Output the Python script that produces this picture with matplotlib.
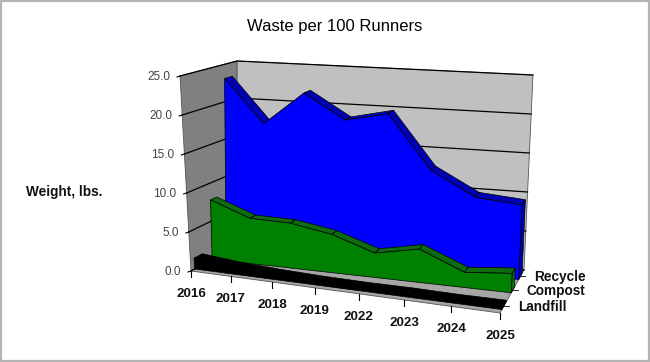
import numpy as np
import matplotlib
matplotlib.use('Agg')
import matplotlib.pyplot as plt
from matplotlib.patches import Polygon, Rectangle

plt.rcParams['font.family'] = ['Liberation Sans', 'DejaVu Sans']

# Values
years = ['2016', '2017', '2018', '2019', '2022', '2023', '2024', '2025']
series_names = ['Recycle', 'Compost', 'Landfill']
recycle = [23.1, 17.4, 21.8, 18.6, 19.8, 12.9, 9.9, 9.4]
compost = [7.8, 5.9, 5.8, 4.9, 3.1, 4.2, 1.9, 2.4]
landfill = [1.4, 0.9, 0.6, 0.4, 0.3, 0.3, 0.2, 0.2]
y_ticks = [0, 5, 10, 15, 20, 25]

# Corners of the 3D box in pixels: (across, depth, height)
corners = {
    (0, 0, 0): (191, 271), (1, 0, 0): (500, 313),
    (0, 1, 0): (236, 246), (1, 1, 0): (524, 270),
    (0, 0, 1): (180, 76), (1, 0, 1): (508, 105),
    (0, 1, 1): (237, 61), (1, 1, 1): (533, 75),
}
PERSP = 1.123


def project(i, d, v):
    # category index, depth 0-1, value -> pixel position
    a = i / (len(years) - 1)
    u = a / (a + (1 - a) * PERSP)
    h = v / 25.0
    x, y = 0.0, 0.0
    for (cu, cd, ch), (px, py) in corners.items():
        w = (u if cu else 1 - u) * (d if cd else 1 - d) * (h if ch else 1 - h)
        x += w * px
        y += w * py
    return x, y


fig = plt.figure(figsize=(6.5, 3.62), dpi=100)
ax = fig.add_axes([0, 0, 1, 1])
ax.set_xlim(0, 650)
ax.set_ylim(362, 0)
ax.axis('off')
n = len(years) - 1

# Walls and floor
ax.add_patch(Polygon([project(0, 1, 0), project(n, 1, 0), project(n, 1, 25), project(0, 1, 25)],
                     fc='#C0C0C0', ec='#555555', lw=0.6, zorder=1))
ax.add_patch(Polygon([project(0, 0, 0), project(0, 1, 0), project(0, 1, 25), project(0, 0, 25)],
                     fc='#808080', ec='#555555', lw=0.6, zorder=1))
ax.add_patch(Polygon([project(0, 0, 0), project(n, 0, 0), project(n, 1, 0), project(0, 1, 0)],
                     fc='#A6A6A6', ec='#555555', lw=0.6, zorder=1))

# Gridlines and value labels
for t in y_ticks:
    pts = [project(0, 0, t), project(0, 1, t), project(n, 1, t)]
    ax.plot(*zip(*pts), color='black', lw=0.9, zorder=2)
    tx, ty = project(0, 0, t)
    ax.plot([tx - 3, tx], [ty + 1, ty], color='black', lw=0.8, zorder=2)
    ax.text(tx - 10, ty + 1, f'{t:.1f}', ha='right', va='center', fontsize=8.5, color='#444444')


def draw_area(values, d0, d1, face, top, side):
    idx = range(len(values))
    # side at the right end
    ax.add_patch(Polygon([project(n, d0, 0), project(n, d1, 0),
                          project(n, d1, values[n]), project(n, d0, values[n])],
                         fc=side, ec='black', lw=0.5, zorder=3))
    # top strips
    for i in range(n):
        ax.add_patch(Polygon([project(i, d0, values[i]), project(i + 1, d0, values[i + 1]),
                              project(i + 1, d1, values[i + 1]), project(i, d1, values[i])],
                             fc=top, ec='black', lw=0.5, zorder=3))
    # front face
    pts = [project(i, d0, values[i]) for i in idx] + [project(n, d0, 0), project(0, d0, 0)]
    ax.add_patch(Polygon(pts, fc=face, ec='black', lw=0.5, zorder=3))


draw_area(recycle, 0.78, 0.92, '#0000FF', '#0000B4', '#0000B4')
draw_area(compost, 0.47, 0.60, '#008000', '#0F6B0F', '#0F6B0F')
draw_area(landfill, 0.08, 0.26, '#000000', '#000000', '#000000')

# Category ticks and labels
for i, yr in enumerate(years):
    tx, ty = project(i, 0, 0)
    ax.plot([tx, tx], [ty, ty + 6], color='black', lw=0.8, zorder=2)
    ax.text(tx, ty + 23, yr, ha='center', va='center', fontsize=9.6, fontweight='bold', color='#111111')

# Depth ticks and series labels
for d, name in zip([0.85, 0.53, 0.17], series_names):
    tx, ty = project(n, d, 0)
    ax.plot([tx, tx + 5], [ty, ty], color='black', lw=0.6, zorder=2)
    ax.text(tx + 14, ty + 1, name, ha='left', va='center', fontsize=9.8, fontweight='bold', color='#111111')

ax.text(335, 26, 'Waste per 100 Runners', ha='center', va='center', fontsize=12, color='black')
ax.text(64, 192, 'Weight, lbs.', ha='center', va='center', fontsize=9.8, fontweight='bold', color='#111111')

# Picture border
ax.add_patch(Rectangle((1, 1), 647.5, 359.5, fc='none', ec='#B4B4B4', lw=1.6, zorder=5))

fig.savefig('out.png', dpi=100)
